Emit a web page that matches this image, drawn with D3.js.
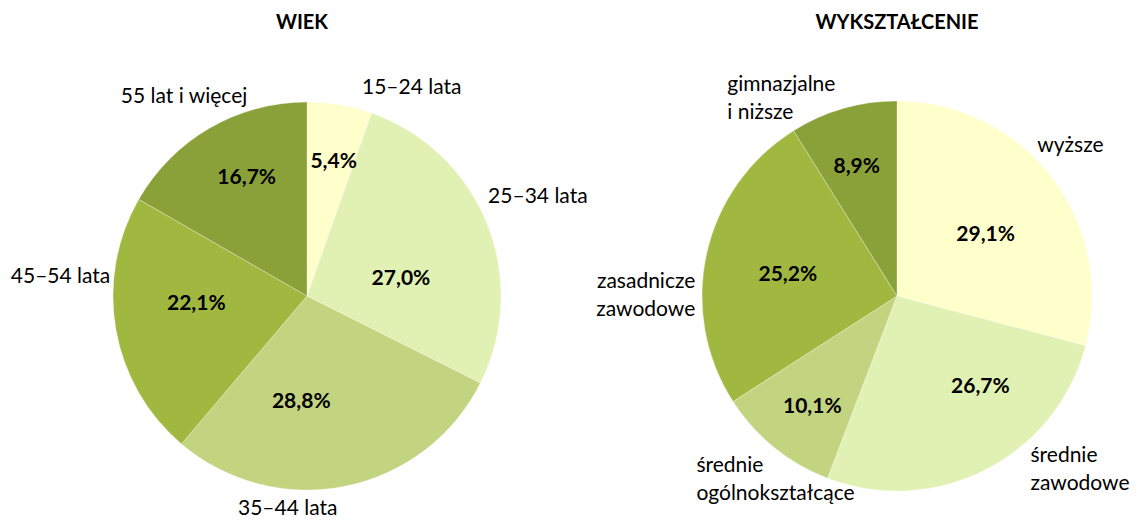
<!DOCTYPE html>
<html>
<head>
<meta charset="utf-8">
<script src="https://cdn.jsdelivr.net/npm/d3@7"></script>
<style>
  body { margin: 0; background: #fff; }
  text { font-family: Lato, "Open Sans", sans-serif; fill: #000; }
</style>
</head>
<body>
<div id="chart"></div>
<script>
// data, clockwise from 12 o'clock
const ageLabels = [["15–24 lata"], ["25–34 lata"], ["35–44 lata"], ["45–54 lata"], ["55 lat i więcej"]]
const ageValues = [5.4, 27.0, 28.8, 22.1, 16.7]

const eduLabels = [["wyższe"], ["średnie", "zawodowe"], ["średnie", "ogólnokształcące"], ["zasadnicze", "zawodowe"], ["gimnazjalne", "i niższe"]]
const eduValues = [29.1, 26.7, 10.1, 25.2, 8.9]

const sliceColors = ["#FFFFCC", "#E1F1B4", "#C2D480", "#A1B840", "#8AA13A"]

const config = {
    svgWidth: 1138,
    svgHeight: 520,
    fontSize: 21,
    lineHeight: 28
}

// where each pie sits + label nudges (Excel placed them by hand more or less)
const charts = [
    {
        title: "WIEK", titleX: 302, cx: 307, cy: 296, r: 194,
        labels: ageLabels, values: ageValues,
        pctNudge: [[7, -21], [-14, 25], [-29, -9], [4, -13], [-2, -19]],
        outAnchor: ["start", "start", "middle", "end", "end"],
        outNudge: [[18, 14], [-22, -11], [-63, 4], [19, -51], [50, -3]]
    },
    {
        title: "WYKSZTAŁCENIE", titleX: 897, cx: 897, cy: 296, r: 195,
        labels: eduLabels, values: eduValues,
        pctNudge: [[-4, 9], [30, -14], [-11, 19], [5, 3], [-8, -18]],
        outAnchor: ["start", "start", "start", "end", "start"],
        outNudge: [[-34, -10], [33, -30], [-62, 5], [13, 40], [-109, 6]]
    }
]

const fmt = v => d3.format(".1f")(v).replace(".", ",") + "%"

const svg = d3.select("#chart")
    .append("svg")
    .attr("width", config.svgWidth)
    .attr("height", config.svgHeight)

const pie = d3.pie().sort(null).value(d => d)

charts.forEach(c => {
    const g = svg.append("g").attr("transform", `translate(${c.cx},${c.cy})`)
    const arcs = pie(c.values)
    const arc = d3.arc().innerRadius(0).outerRadius(c.r)
    const pctArc = d3.arc().innerRadius(c.r * 0.6).outerRadius(c.r * 0.6)
    const outArc = d3.arc().innerRadius(c.r + 25).outerRadius(c.r + 25)

    svg.append("text")
        .attr("x", c.titleX)
        .attr("y", 29)
        .attr("text-anchor", "middle")
        .style("font-weight", "bold")
        .style("font-size", "20px")
        .text(c.title)

    g.selectAll("path")
        .data(arcs)
        .enter()
        .append("path")
        .attr("d", arc)
        .attr("fill", (d, i) => sliceColors[i])
        .attr("stroke", "rgba(255,255,255,0.5)")
        .attr("stroke-width", 0.6)

    g.selectAll("text.pct")
        .data(arcs)
        .enter()
        .append("text")
        .attr("class", "pct")
        .attr("x", (d, i) => pctArc.centroid(d)[0] + c.pctNudge[i][0])
        .attr("y", (d, i) => pctArc.centroid(d)[1] + c.pctNudge[i][1])
        .attr("dy", "0.35em")
        .attr("text-anchor", "middle")
        .style("font-weight", "bold")
        .style("font-size", config.fontSize + "px")
        .text(d => fmt(d.value))

    const out = g.selectAll("text.out")
        .data(arcs)
        .enter()
        .append("text")
        .attr("class", "out")
        .attr("text-anchor", (d, i) => c.outAnchor[i])
        .style("font-size", config.fontSize + "px")

    out.each(function (d, i) {
        const x = outArc.centroid(d)[0] + c.outNudge[i][0]
        const y = outArc.centroid(d)[1] + c.outNudge[i][1]
        d3.select(this).selectAll("tspan")
            .data(c.labels[i])
            .enter()
            .append("tspan")
            .attr("x", x)
            .attr("y", (line, k) => y + k * config.lineHeight)
            .text(line => line)
    })
})
</script>
</body>
</html>
